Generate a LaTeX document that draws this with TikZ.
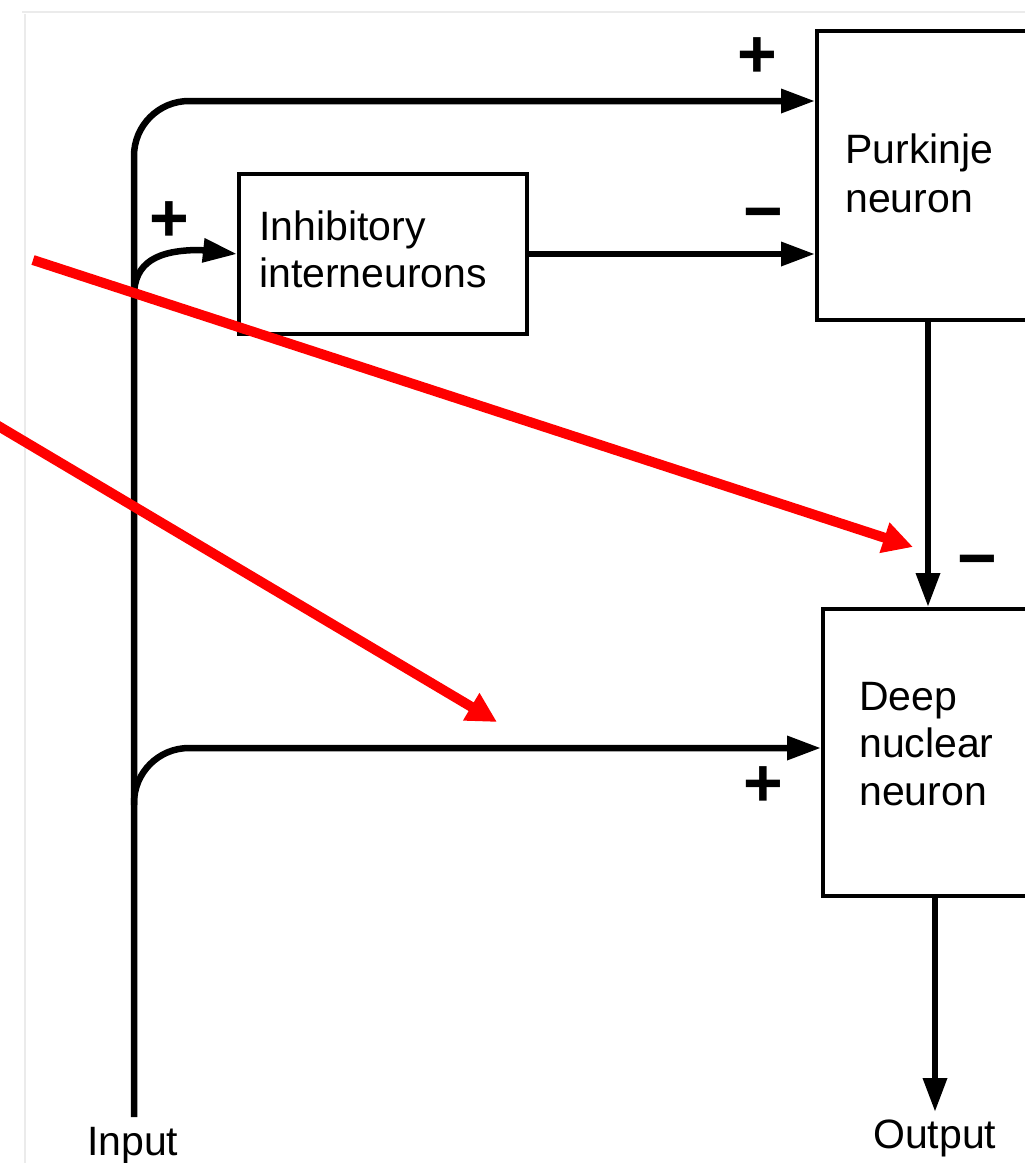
\documentclass[tikz,border=0pt]{standalone}
\usepackage{fontspec}
\setmainfont{Liberation Sans}
\usetikzlibrary{arrows.meta}
\begin{document}
\begin{tikzpicture}[x=1pt,y=-1pt,
  box/.style={draw, line width=4pt, inner sep=0pt, anchor=north west},
  wire/.style={line width=6.5pt, -{Triangle[length=34pt,width=23pt]}},
  lbl/.style={font=\fontsize{41}{47}\selectfont, inner sep=0pt, anchor=base west},
  sign/.style={font=\fontsize{68}{68}\selectfont\bfseries, inner sep=0pt},
  note/.style={draw=red, line width=10pt, -{Triangle[length=30pt,width=30pt]}},
  faint/.style={draw=black!8, line width=1.5pt}]
\useasboundingbox (0,0) rectangle (1025,1163);

% faint scan frame
\draw[faint] (25,14) -- (25,1163);
\draw[faint] (22,12) -- (1025,12);

% boxes
\node[box, minimum width=288pt, minimum height=160pt] (inh) at (237,172) {};
\node[box, minimum width=225pt, minimum height=289pt] (pk) at (815,29) {};
\node[box, minimum width=220pt, minimum height=287pt] (dn) at (821,607) {};

% texts
\node[lbl] (inhA) at (259,240) {Inhibitory};
\node[lbl] (inhB) at (259,287) {interneurons};
\node[lbl] (pkA) at (845,163) {Purkinje};
\node[lbl] (pkB) at (845,212) {neuron};
\node[lbl] (dnA) at (859,710) {Deep};
\node[lbl] (dnB) at (859,757) {nuclear};
\node[lbl] (dnC) at (859,805) {neuron};
\node[lbl] (inp) at (87,1155) {Input};
\node[lbl] (outp) at (873,1148) {Output};

% signs
\node[sign] (s1) at (757,58) {+};
\node[sign] (s2) at (763,221) {−};
\node[sign] (s3) at (169,222) {+};
\node[sign] (s4) at (977,568) {−};
\node[sign] (s5) at (763,787) {+};

% coordinates
\coordinate (in) at (134,1117);
\coordinate (pkIn) at (815,101);
\coordinate (b1) at (134,296);
\coordinate (b2) at (134,805);
\coordinate (dnIn) at (821,748);
\coordinate (pkx) at (928,0);
\coordinate (outx) at (935,1112);

% wires
\draw[wire, rounded corners=55pt] (in) |- (pkIn);
\draw[wire] (b1) .. controls (134,262) and (158,250) .. (200,250) -- (inh.west);
\draw[wire] (inh.east) -- (inh.east -| pk.west);
\draw[wire] (pk.south -| pkx) -- (dn.north -| pkx);
\draw[wire, rounded corners=55pt] (b2) |- (dnIn);
\draw[wire] (dn.south -| outx) -- (outx);

% red annotation arrows
\coordinate (r1s) at (33,260);
\coordinate (r1e) at (913,547);
\coordinate (r2s) at (-5,424);
\coordinate (r2e) at (497,722);
\draw[note] (r1s) -- (r1e);
\draw[note] (r2s) -- (r2e);
\end{tikzpicture}
\end{document}
